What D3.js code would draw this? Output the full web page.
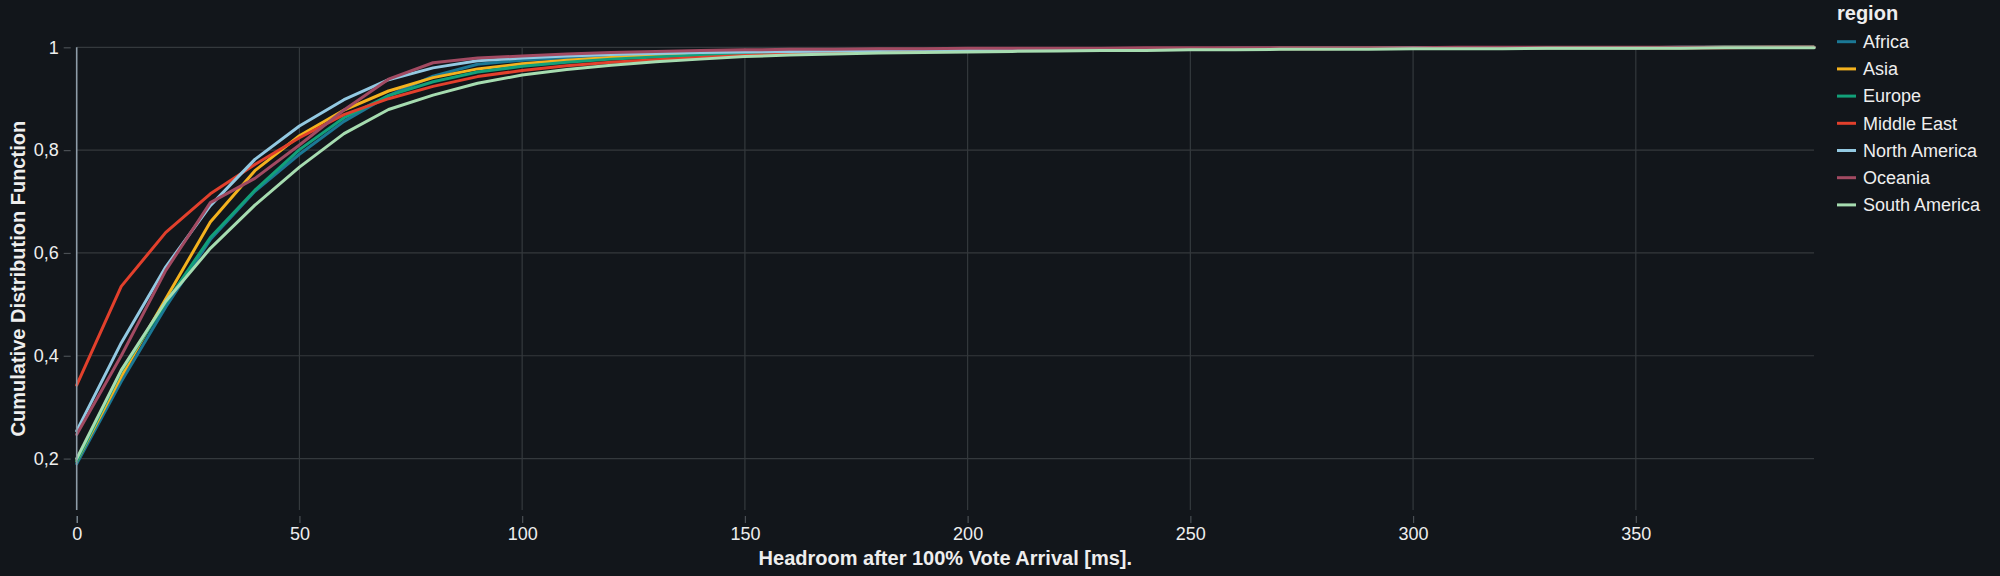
<!DOCTYPE html>
<html>
<head>
<meta charset="utf-8">
<script src="https://cdn.jsdelivr.net/npm/d3@7"></script>
<style>
    html, body { margin: 0; padding: 0; background: #12161b; }
    svg { display: block; font-family: "Liberation Sans", Arial, sans-serif; }
</style>
</head>
<body>
<svg id="canvas"></svg>
<script>
let headroom = [0, 10, 20, 30, 40, 50, 60, 70, 80, 90, 100, 110, 120, 130, 140, 150, 160, 170, 180, 190,
                200, 210, 220, 230, 240, 250, 260, 270, 280, 290, 300, 310, 320, 330, 340, 350, 360, 370, 380, 390]

let africa = [0.19, 0.35, 0.495, 0.626, 0.72, 0.792, 0.856, 0.906, 0.944, 0.967, 0.975, 0.98, 0.983, 0.986, 0.988, 0.99, 0.991, 0.992, 0.993, 0.994,
              0.995, 0.995, 0.996, 0.996, 0.997, 0.997, 0.997, 0.998, 0.998, 0.998, 0.998, 0.999, 0.999, 0.999, 0.999, 0.999, 0.999, 1, 1, 1]
let asia = [0.195, 0.36, 0.511, 0.66, 0.76, 0.828, 0.878, 0.915, 0.941, 0.958, 0.968, 0.975, 0.98, 0.984, 0.987, 0.989, 0.991, 0.992, 0.993, 0.994,
            0.995, 0.995, 0.996, 0.996, 0.997, 0.997, 0.997, 0.998, 0.998, 0.998, 0.998, 0.999, 0.999, 0.999, 0.999, 0.999, 0.999, 1, 1, 1]
let europe = [0.195, 0.37, 0.503, 0.63, 0.722, 0.801, 0.863, 0.906, 0.933, 0.952, 0.963, 0.971, 0.977, 0.981, 0.985, 0.988, 0.99, 0.991, 0.992, 0.993,
              0.994, 0.995, 0.995, 0.996, 0.996, 0.997, 0.997, 0.997, 0.998, 0.998, 0.998, 0.998, 0.999, 0.999, 0.999, 0.999, 0.999, 1, 1, 1]
let middleEast = [0.343, 0.535, 0.64, 0.715, 0.772, 0.824, 0.869, 0.9, 0.924, 0.943, 0.955, 0.964, 0.971, 0.976, 0.98, 0.984, 0.987, 0.989, 0.991, 0.992,
                  0.993, 0.994, 0.995, 0.995, 0.996, 0.996, 0.997, 0.997, 0.997, 0.998, 0.998, 0.998, 0.998, 0.999, 0.999, 0.999, 0.999, 0.999, 1, 1]
let northAmerica = [0.254, 0.425, 0.573, 0.692, 0.782, 0.847, 0.898, 0.937, 0.96, 0.974, 0.979, 0.983, 0.986, 0.988, 0.99, 0.991, 0.992, 0.993, 0.994, 0.995,
                    0.995, 0.996, 0.996, 0.997, 0.997, 0.997, 0.998, 0.998, 0.998, 0.998, 0.999, 0.999, 0.999, 0.999, 0.999, 0.999, 1, 1, 1, 1]
let oceania = [0.247, 0.4, 0.566, 0.698, 0.745, 0.81, 0.878, 0.938, 0.97, 0.979, 0.983, 0.987, 0.99, 0.992, 0.994, 0.995, 0.996, 0.996, 0.997, 0.997,
               0.998, 0.998, 0.998, 0.998, 0.999, 0.999, 0.999, 0.999, 0.999, 0.999, 0.999, 1, 1, 1, 1, 1, 1, 1, 1, 1]
let southAmerica = [0.2, 0.372, 0.506, 0.609, 0.693, 0.767, 0.832, 0.879, 0.907, 0.93, 0.946, 0.957, 0.965, 0.972, 0.977, 0.982, 0.985, 0.987, 0.989, 0.99,
                    0.991, 0.992, 0.993, 0.994, 0.994, 0.995, 0.995, 0.996, 0.996, 0.996, 0.997, 0.997, 0.997, 0.998, 0.998, 0.998, 0.998, 0.999, 0.999, 0.999]

let regionNames = ["Africa", "Asia", "Europe", "Middle East", "North America", "Oceania", "South America"]
let regionValues = [africa, asia, europe, middleEast, northAmerica, oceania, southAmerica]
let regionColors = ["#1b7895", "#f4b21e", "#12a079", "#e2402c", "#93c9e2", "#a24a62", "#a6dcb0"]

let xTicks = [0, 50, 100, 150, 200, 250, 300, 350]
let yTicks = [0.2, 0.4, 0.6, 0.8, 1]

let width = 2000
let height = 576
let plotLeft = 76.7
let plotRight = 1814
let plotTop = 47.3
let plotBottom = 510

let textColor = "#eeeeee"
let gridColor = "#34393d"
let axisColor = "#8e9ca8"

let canvas = d3.select("#canvas")
                .attr("width", width)
                .attr("height", height)

let xScale = d3.scaleLinear()
                .domain([0, 390])
                .range([plotLeft, plotRight])

let yScale = d3.scaleLinear()
                .domain([0.1, 1])
                .range([plotBottom, plotTop])

let commaLocale = d3.formatLocale({ decimal: ",", thousands: ".", grouping: [3], currency: ["", ""] })

let drawGrid = () => {
    canvas.append("g")
            .selectAll("line")
            .data(xTicks.slice(1))
            .enter()
            .append("line")
            .attr("x1", d => xScale(d))
            .attr("x2", d => xScale(d))
            .attr("y1", plotTop)
            .attr("y2", plotBottom)
            .attr("stroke", gridColor)
            .attr("stroke-width", 1.2)

    canvas.append("g")
            .selectAll("line")
            .data(yTicks)
            .enter()
            .append("line")
            .attr("x1", plotLeft)
            .attr("x2", plotRight)
            .attr("y1", d => yScale(d))
            .attr("y2", d => yScale(d))
            .attr("stroke", gridColor)
            .attr("stroke-width", 1.2)
}

let drawAxes = () => {
    let yAxis = d3.axisLeft(yScale)
                    .tickValues(yTicks)
                    .tickFormat(commaLocale.format("~g"))
                    .tickSizeOuter(0)

    let yG = canvas.append("g")
                    .attr("transform", "translate(" + plotLeft + ",0)")
                    .call(yAxis)

    yG.select(".domain")
        .attr("d", "M0," + plotTop + "V" + plotBottom)
        .attr("stroke", axisColor)
        .attr("stroke-width", 1.6)
    yG.selectAll(".tick line")
        .attr("x1", -6)
        .attr("x2", -13)
        .attr("stroke", "#4a4f54")
        .attr("stroke-width", 1.2)
    yG.selectAll(".tick text")
        .attr("x", -18)
        .attr("fill", textColor)
        .style("font-size", "18px")

    let xAxis = d3.axisBottom(xScale)
                    .tickValues(xTicks)
                    .tickFormat(d3.format("d"))

    let xG = canvas.append("g")
                    .attr("transform", "translate(0," + plotBottom + ")")
                    .call(xAxis)

    xG.select(".domain").remove()
    xG.selectAll(".tick line")
        .attr("y1", 6)
        .attr("y2", 13)
        .attr("stroke", d => d == 0 ? axisColor : "#4a4f54")
        .attr("stroke-width", 1.2)
    xG.selectAll(".tick text")
        .attr("y", 17)
        .attr("fill", textColor)
        .style("font-size", "18px")

    canvas.append("text")
            .attr("x", (plotLeft + plotRight) / 2)
            .attr("y", 565)
            .attr("text-anchor", "middle")
            .attr("fill", textColor)
            .style("font-size", "20px")
            .style("font-weight", "bold")
            .text("Headroom after 100% Vote Arrival [ms].")

    canvas.append("text")
            .attr("transform", "translate(25," + ((plotTop + plotBottom) / 2) + ") rotate(-90)")
            .attr("text-anchor", "middle")
            .attr("fill", textColor)
            .style("font-size", "20px")
            .style("font-weight", "bold")
            .text("Cumulative Distribution Function")
}

let drawLines = () => {
    let line = d3.line()
                    .x((d, i) => xScale(headroom[i]))
                    .y(d => yScale(d))

    canvas.append("g")
            .selectAll("path")
            .data(regionValues)
            .enter()
            .append("path")
            .attr("d", d => line(d))
            .attr("fill", "none")
            .attr("stroke", (d, i) => regionColors[i])
            .attr("stroke-width", 3)
            .attr("stroke-linejoin", "round")
            .attr("stroke-linecap", "round")
}

let drawLegend = () => {
    let legend = canvas.append("g")
                        .attr("transform", "translate(1837,0)")

    legend.append("text")
            .attr("x", 0)
            .attr("y", 20)
            .attr("fill", textColor)
            .style("font-size", "20px")
            .style("font-weight", "bold")
            .text("region")

    let items = legend.selectAll(".item")
                        .data(regionNames)
                        .enter()
                        .append("g")
                        .attr("class", "item")
                        .attr("transform", (d, i) => "translate(0," + (41.7 + i * 27.2) + ")")

    items.append("line")
            .attr("x1", 0)
            .attr("x2", 19)
            .attr("stroke", (d, i) => regionColors[i])
            .attr("stroke-width", 3)

    items.append("text")
            .attr("x", 26)
            .attr("dy", "0.35em")
            .attr("fill", textColor)
            .style("font-size", "18px")
            .text(d => d)
}

drawGrid()
drawLines()
drawAxes()
drawLegend()
</script>
</body>
</html>
